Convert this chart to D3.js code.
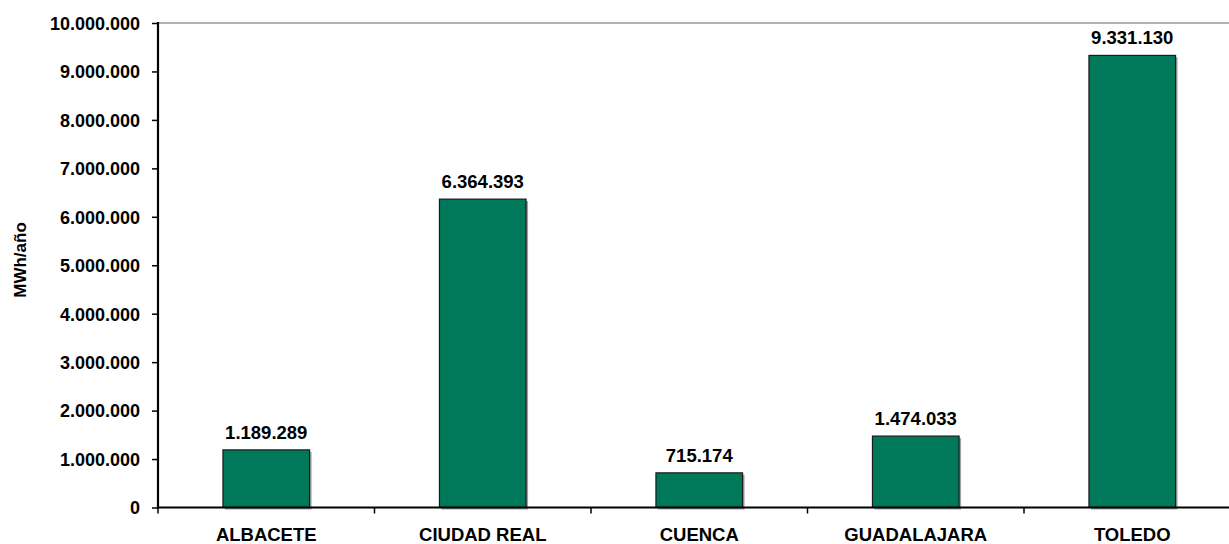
<!DOCTYPE html>
<html>
<head>
<meta charset="utf-8">
<script src="https://cdn.jsdelivr.net/npm/d3@7"></script>
<style>
html,body{margin:0;padding:0;background:#fff;}
svg{display:block;}
text{font-family:"Liberation Sans",Arial,sans-serif;font-weight:bold;fill:#000;}
</style>
</head>
<body>
<svg id="chart" width="1229" height="544"></svg>
<script>
const categories = ["ALBACETE", "CIUDAD REAL", "CUENCA", "GUADALAJARA", "TOLEDO"];
const values = [1189289, 6364393, 715174, 1474033, 9331130];
const yTicks = [0, 1000000, 2000000, 3000000, 4000000, 5000000, 6000000, 7000000, 8000000, 9000000, 10000000];
const yLabel = "MWh/año";

const W = 1229, H = 544;
const mLeft = 158, mRight = 1240.5, mTop = 23, mBottom = 507.5;

const locale = d3.formatLocale({decimal: ",", thousands: ".", grouping: [3], currency: ["", "€"]});
const fmt = locale.format(",d");

const svg = d3.select("#chart");

const x = d3.scaleBand().domain(categories).range([mLeft, mRight]).paddingInner(0.6).paddingOuter(0.3);
const y = d3.scaleLinear().domain([0, 10000000]).range([mBottom, mTop]);

// top border of plot area
svg.append("line").attr("x1", mLeft).attr("x2", W).attr("y1", mTop).attr("y2", mTop)
  .attr("stroke", "#9a9a9a").attr("stroke-width", 1.5);

// y axis
const yAxis = d3.axisLeft(y).tickValues(yTicks).tickFormat(fmt).tickSize(6).tickPadding(12);
const gy = svg.append("g").attr("transform", `translate(${mLeft},0)`).call(yAxis);
gy.select(".domain").remove();
gy.selectAll(".tick line").attr("stroke", "#000").attr("stroke-width", 1.5);
gy.selectAll(".tick text").attr("font-size", 18).attr("font-family", "Liberation Sans, Arial, sans-serif").attr("font-weight", "bold").attr("fill", "#000").attr("dy", "0.35em");

// bars shadow
const step = x.step();
svg.append("g").selectAll("rect").data(categories).join("rect")
  .attr("x", d => x(d) + 2).attr("y", (d, i) => y(values[i]) + 2)
  .attr("width", x.bandwidth()).attr("height", (d, i) => mBottom - y(values[i]))
  .attr("fill", "#a0a0a0");

// bars
svg.append("g").selectAll("rect").data(categories).join("rect")
  .attr("x", d => x(d)).attr("y", (d, i) => y(values[i]))
  .attr("width", x.bandwidth()).attr("height", (d, i) => mBottom - y(values[i]))
  .attr("fill", "#00795a").attr("stroke", "#1a1a1a").attr("stroke-width", 1.2);

// value labels
svg.append("g").selectAll("text").data(categories).join("text")
  .attr("x", d => x(d) + x.bandwidth() / 2).attr("y", (d, i) => y(values[i]) - 11)
  .attr("text-anchor", "middle").attr("font-size", 18.5)
  .text((d, i) => fmt(values[i]));

// axes lines
svg.append("line").attr("x1", mLeft).attr("x2", mLeft).attr("y1", mTop - 1).attr("y2", mBottom + 1)
  .attr("stroke", "#000").attr("stroke-width", 2.2);
svg.append("line").attr("x1", mLeft - 1).attr("x2", W).attr("y1", mBottom).attr("y2", mBottom)
  .attr("stroke", "#000").attr("stroke-width", 2.2);

// x ticks at category boundaries
const x0 = x(categories[0]) - x.paddingOuter() * step;
const bounds = d3.range(categories.length + 1).map(i => x0 + i * step);
svg.append("g").selectAll("line").data(bounds).join("line")
  .attr("x1", d => d).attr("x2", d => d).attr("y1", mBottom).attr("y2", mBottom + 6)
  .attr("stroke", "#000").attr("stroke-width", 1.5);

// category labels
svg.append("g").selectAll("text").data(categories).join("text")
  .attr("x", d => x(d) + x.bandwidth() / 2).attr("y", 541)
  .attr("text-anchor", "middle").attr("font-size", 18.5)
  .text(d => d);

// y label
svg.append("text").attr("transform", `translate(26,260) rotate(-90)`)
  .attr("text-anchor", "middle").attr("font-size", 17)
  .text(yLabel);
</script>
</body>
</html>
